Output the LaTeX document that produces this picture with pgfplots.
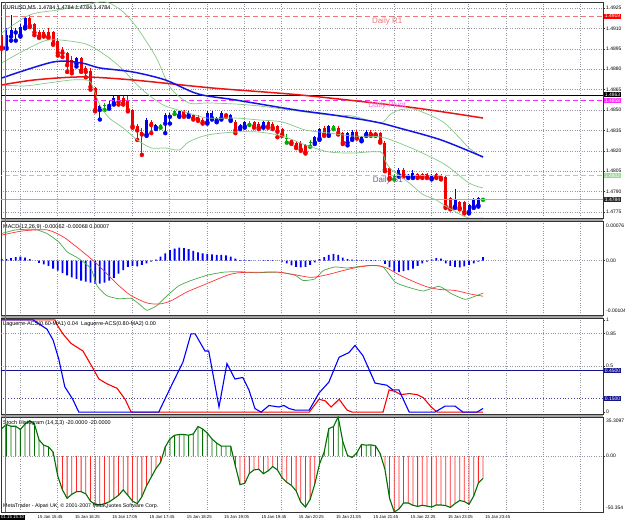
\documentclass[border=0pt]{standalone}
\usepackage{fontspec}
\setmainfont{Liberation Sans}
\usepackage{pgfplots}
\usepackage{pgfplotstable}
\pgfplotsset{compat=1.18}

\definecolor{bbgreen}{RGB}{135,200,135}
\definecolor{gridc}{RGB}{150,150,165}
\definecolor{sepc}{RGB}{165,165,165}
\definecolor{r1c}{RGB}{240,120,120}
\definecolor{pivc}{RGB}{255,40,255}
\definecolor{s1c}{RGB}{150,220,150}
\definecolor{s1txt}{RGB}{95,95,165}
\definecolor{stgreen}{RGB}{0,110,0}
\definecolor{macdgreen}{RGB}{70,170,70}
\definecolor{navyc}{RGB}{20,20,140}
\definecolor{bidc}{RGB}{170,170,190}
\definecolor{mablue}{RGB}{20,20,230}
\definecolor{mared}{RGB}{235,20,20}
\definecolor{cbull}{RGB}{0,0,235}
\definecolor{cbear}{RGB}{240,0,0}
\definecolor{cdoji}{RGB}{0,170,0}
\newcommand{\ssz}[1]{\fontsize{#1}{#1}\selectfont}

\pgfplotstableread{
i o h l c
0 1.4905 1.4907 1.4895 1.4896
1 1.4896 1.4910 1.4895 1.4905
2 1.4904 1.4920 1.4901 1.4909
3 1.4907 1.4910 1.4901 1.4908
4 1.4905 1.4913 1.4904 1.4911
5 1.4911 1.4919 1.4910 1.4918
6 1.4918 1.4920 1.4911 1.4912
7 1.4913 1.4914 1.4905 1.4907
8 1.4907 1.4909 1.4903 1.4904
9 1.4907 1.4909 1.4904 1.4905
10 1.4907 1.4910 1.4903 1.4904
11 1.4907 1.4908 1.4898 1.4899
12 1.4901 1.4903 1.4890 1.4892
13 1.4894 1.4896 1.4889 1.4892
14 1.4892 1.4893 1.4878 1.4883
15 1.4887 1.4890 1.4877 1.4879
16 1.4884 1.4889 1.4882 1.4888
17 1.4888 1.4889 1.4878 1.4879
18 1.4881 1.4882 1.4874 1.4878
19 1.4879 1.4881 1.4865 1.4867
20 1.4866 1.4867 1.4849 1.4850
21 1.4850 1.4854 1.4843 1.4853
22 1.4853 1.4855 1.4850 1.4853
23 1.4853 1.4857 1.4851 1.4854
24 1.4855 1.4860 1.4854 1.4859
25 1.4860 1.4861 1.4854 1.4856
26 1.4859 1.4860 1.4854 1.4855
27 1.4857 1.4860 1.4849 1.4850
28 1.4850 1.4851 1.4837 1.4838
29 1.4838 1.4840 1.4828 1.4835
30 1.4834 1.4837 1.4817 1.4832
31 1.4832 1.4844 1.4831 1.4843
32 1.4841 1.4843 1.4833 1.4839
33 1.4837 1.4840 1.4836 1.4839
34 1.4839 1.4840 1.4837 1.4839
35 1.4840 1.4848 1.4833 1.4846
36 1.4845 1.4848 1.4840 1.4846
37 1.4849 1.4850 1.4847 1.4849
38 1.4846 1.4850 1.4845 1.4849
39 1.4849 1.4850 1.4845 1.4846
40 1.4846 1.4849 1.4845 1.4848
41 1.4846 1.4847 1.4843 1.4844
42 1.4845 1.4846 1.4842 1.4843
43 1.4843 1.4844 1.4840 1.4841
44 1.4841 1.4849 1.4840 1.4848
45 1.4844 1.4849 1.4843 1.4848
46 1.4842 1.4845 1.4841 1.4844
47 1.4844 1.4849 1.4843 1.4848
48 1.4847 1.4848 1.4845 1.4846
49 1.4843 1.4847 1.4842 1.4846
50 1.4841 1.4843 1.4833 1.4835
51 1.4837 1.4840 1.4836 1.4839
52 1.4838 1.4842 1.4837 1.4841
53 1.4840 1.4842 1.4839 1.4840
54 1.4841 1.4842 1.4837 1.4838
55 1.4840 1.4841 1.4836 1.4837
56 1.4838 1.4842 1.4837 1.4841
57 1.4841 1.4842 1.4837 1.4838
58 1.4840 1.4841 1.4836 1.4837
59 1.4838 1.4839 1.4830 1.4834
60 1.4836 1.4837 1.4831 1.4832
61 1.4829 1.4832 1.4826 1.4829
62 1.4828 1.4829 1.4825 1.4826
63 1.4826 1.4827 1.4822 1.4823
64 1.4826 1.4827 1.4820 1.4821
65 1.4824 1.4825 1.4818 1.4819
66 1.4826 1.4828 1.4823 1.4826
67 1.4826 1.4831 1.4825 1.4830
68 1.4829 1.4837 1.4828 1.4836
69 1.4837 1.4838 1.4831 1.4832
70 1.4832 1.4839 1.4831 1.4838
71 1.4838 1.4839 1.4836 1.4838
72 1.4837 1.4838 1.4832 1.4833
73 1.4833 1.4834 1.4825 1.4826
74 1.4826 1.4834 1.4824 1.4833
75 1.4829 1.4835 1.4828 1.4834
76 1.4834 1.4835 1.4829 1.4830
77 1.4828 1.4831 1.4827 1.4830
78 1.4832 1.4835 1.4831 1.4834
79 1.4834 1.4835 1.4831 1.4832
80 1.4833 1.4834 1.4831 1.4832
81 1.4833 1.4834 1.4826 1.4827
82 1.4826 1.4827 1.4805 1.4806
83 1.4807 1.4808 1.4799 1.4800
84 1.4801 1.4803 1.4799 1.4801
85 1.4802 1.4807 1.4801 1.4806
86 1.4806 1.4807 1.4801 1.4802
87 1.4801 1.4803 1.4800 1.4802
88 1.4801 1.4806 1.4800 1.4804
89 1.4803 1.4804 1.4800 1.4801
90 1.4803 1.4804 1.4800 1.4801
91 1.4803 1.4804 1.4800 1.4801
92 1.4800 1.4803 1.4799 1.4802
93 1.4803 1.4804 1.4800 1.4801
94 1.4802 1.4803 1.4799 1.4800
95 1.4801 1.4802 1.4778 1.4779
96 1.4785 1.4786 1.4777 1.4778
97 1.4779 1.4792 1.4778 1.4784
98 1.4782 1.4783 1.4777 1.4778
99 1.4782 1.4783 1.4774 1.4775
100 1.4775 1.4781 1.4774 1.4780
101 1.4779 1.4785 1.4778 1.4784
102 1.4780 1.4786 1.4779 1.4785
103 1.4784 1.4784 1.4784 1.4784
}\candles

\pgfplotstableread{
i p
0 1.49066
6 1.49199
12 1.49235
18 1.49272
21 1.49294
23 1.49287
26 1.49221
29 1.49103
33 1.48890
36 1.48669
40 1.48552
44 1.48552
50 1.48544
55 1.48530
60 1.48508
65 1.48485
70 1.48463
75 1.48456
81 1.48405
83 1.48463
85 1.48500
88 1.48508
90 1.48485
93 1.48441
95 1.48397
98 1.48294
100 1.48221
103 1.48147
}\bbup

\pgfplotstableread{
i p
0 1.48846
5 1.48941
10 1.49015
16 1.49000
19 1.48971
23 1.48883
26 1.48794
29 1.48684
32 1.48596
35 1.48530
40 1.48478
44 1.48441
50 1.48441
55 1.48427
60 1.48412
65 1.48353
70 1.48331
75 1.48309
81 1.48302
85 1.48258
90 1.48184
95 1.48096
100 1.47963
103 1.47927
}\bbmid

\pgfplotstableread{
i p
0 1.48684
5 1.48677
10 1.48699
15 1.48721
18 1.48721
19 1.48706
20 1.48625
21 1.48537
23 1.48441
26 1.48368
29 1.48280
32 1.48221
35 1.48221
38 1.48206
40 1.48265
44 1.48316
50 1.48338
55 1.48338
60 1.48309
65 1.48243
70 1.48192
75 1.48184
81 1.48192
82 1.48133
83 1.48074
85 1.48022
88 1.47941
90 1.47882
93 1.47838
95 1.47794
98 1.47735
100 1.47706
103 1.47706
}\bblow

\pgfplotstableread{
i p
0 1.48735
11 1.48853
17 1.48846
21 1.48809
28 1.48780
35 1.48721
42 1.48618
50 1.48574
63 1.48500
71 1.48463
80 1.48412
85 1.48368
94 1.48280
103 1.48155
}\mablue

\pgfplotstableread{
i p
0 1.48684
7 1.48721
17 1.48743
28 1.48721
45 1.48662
64 1.48610
87 1.48522
103 1.48441
}\mared

\pgfplotstableread{
i v
0 0.00003
1 0.00003
2 0.00005
3 0.00007
4 0.00008
5 0.00006
6 0.00003
7 0.00000
8 -0.00004
9 -0.00007
10 -0.00010
11 -0.00015
12 -0.00019
13 -0.00024
14 -0.00028
15 -0.00032
16 -0.00035
17 -0.00038
18 -0.00040
19 -0.00042
20 -0.00044
21 -0.00044
22 -0.00042
23 -0.00038
24 -0.00033
25 -0.00025
26 -0.00018
27 -0.00012
28 -0.00010
29 -0.00011
30 -0.00008
31 -0.00005
32 -0.00002
33 0.00002
34 0.00008
35 0.00014
36 0.00020
37 0.00023
38 0.00025
39 0.00024
40 0.00022
41 0.00019
42 0.00016
43 0.00014
44 0.00013
45 0.00012
46 0.00011
47 0.00011
48 0.00010
49 0.00008
50 0.00004
51 0.00001
52 0.00001
53 0.00001
54 0.00000
55 0.00000
56 0.00001
57 0.00001
58 0.00001
59 0.00000
60 -0.00002
61 -0.00005
62 -0.00009
63 -0.00012
64 -0.00013
65 -0.00012
66 -0.00008
67 -0.00003
68 0.00003
69 0.00007
70 0.00011
71 0.00013
72 0.00011
73 0.00006
74 0.00003
75 0.00002
76 0.00001
77 0.00001
78 0.00001
79 0.00001
80 0.00001
81 0.00000
82 -0.00006
83 -0.00013
84 -0.00020
85 -0.00022
86 -0.00020
87 -0.00018
88 -0.00015
89 -0.00010
90 -0.00005
91 -0.00002
92 0.00002
93 0.00005
94 0.00004
95 -0.00005
96 -0.00010
97 -0.00012
98 -0.00013
99 -0.00011
100 -0.00008
101 -0.00005
102 -0.00002
103 0.00007
}\macdhist

\pgfplotstableread{
i v
0 0.00052
3 0.00059
7 0.00060
9.7 0.00052
12.2 0.00036
14 0.00017
16.5 0.00004
19.1 -0.00015
20.4 -0.00048
22.5 -0.00067
25.1 -0.00073
27.7 -0.00072
29.8 -0.00086
31.1 -0.00095
33.2 -0.00086
35.4 -0.00067
37.9 -0.00048
40.5 -0.00038
43.9 -0.00028
47.4 -0.00022
50.8 -0.00021
54.2 -0.00023
59.3 -0.00022
62.8 -0.00028
64.5 -0.00038
67 -0.00035
68.8 -0.00019
71.3 -0.00012
73.9 -0.00014
76.5 -0.00011
79 -0.00009
81.6 -0.00012
84.2 -0.00041
86.7 -0.00050
90.2 -0.00058
93.6 -0.00049
96.2 -0.00063
99.1 -0.00074
101.3 -0.00068
103 -0.00062
}\macdmain

\pgfplotstableread{
i v
0 0.00049
4.5 0.00057
9.7 0.00059
13.1 0.00046
16.5 0.00023
20 -0.00003
22.5 -0.00025
25.1 -0.00048
27.7 -0.00067
31.1 -0.00081
33.7 -0.00083
36.2 -0.00077
39.6 -0.00060
43.9 -0.00044
48.2 -0.00028
50.8 -0.00023
55.1 -0.00022
59.3 -0.00022
62.8 -0.00027
66.2 -0.00032
69.6 -0.00027
73 -0.00019
76.5 -0.00012
79.9 -0.00009
82.4 -0.00014
85 -0.00027
88.4 -0.00041
91 -0.00050
93.6 -0.00055
97 -0.00057
100.4 -0.00064
103 -0.00068
}\macdsig

\pgfplotstableread{
i v
0 1
6.7 1
9.7 0.898
11 0.78
12.2 0.578
13.5 0.275
15.2 0.14
16.5 0
33.6 0
36.2 0.275
38.8 0.544
40.5 0.848
41.4 0.848
43.5 0.662
44.3 0.662
46.5 0.056
48.2 0.527
49.9 0.359
51.6 0.376
52.9 0.241
54.2 0.039
55.5 0
57.2 0.072
58.5 0.062
59.3 0.056
60.4 0.072
61.5 0.039
62.8 0.022
65.8 0.022
67.9 0.207
70 0.325
72.2 0.595
74.3 0.645
75.6 0.723
77.3 0.612
79.9 0.315
82.4 0.292
83.7 0.241
85 0.241
87.2 0
92.7 0
94.9 0.066
97 0.066
98.7 0
101.7 0
103 0.04
}\lagblue

\pgfplotstableread{
i v
0 1
11.4 1
11.8 0.95
13.1 0.848
14.8 0.746
17.4 0.662
19.5 0.477
20.8 0.359
22.5 0.308
24.7 0.258
26.4 0.14
27.7 0
65.8 0
67.9 0.14
69.2 0.123
70.5 0.056
72.2 0.14
73.9 0.022
75 0
81.6 0
82.9 0.241
84.2 0.224
85.4 0.19
87.2 0.201
88.9 0.19
90.2 0.157
91.9 0.056
93.2 0
103 0
}\lagred

\pgfplotstableread{
i v
0 24.8
1 28.5
2 27.0
3 27.0
4 24.0
5 29.0
6 32.0
7 29.0
8 14.6
9 9.9
10 8.4
11 3.7
12 -18.0
13 -30.4
14 -38.0
15 -34.4
16 -32.0
17 -32.0
18 -34.0
19 -40.6
20 -43.4
21 -44.0
22 -42.8
23 -41.2
24 -38.4
25 -35.3
26 -30.4
27 -35.3
28 -40.6
29 -42.8
30 -36.6
31 -26.7
32 -18.9
33 -11.2
34 -5.6
35 8.4
36 15.5
37 18.9
38 19.5
39 19.5
40 18.9
41 20.0
42 26.7
43 24.5
44 20.8
45 15.5
46 11.8
47 9.0
48 9.0
49 9.0
50 -8.7
51 -25.7
52 -24.5
53 -15.5
54 -12.4
55 -11.8
56 -15.8
57 -13.3
58 -9.3
59 -12.4
60 -19.5
61 -23.6
62 -26.4
63 -31.3
64 -41.5
65 -45.9
66 -39.0
67 -25.1
68 -7.1
69 3.7
70 24.8
71 26.7
72 35.3
73 13.0
74 0.6
75 -1.2
76 3.1
77 10.5
78 9.9
79 10.2
80 9.3
81 2.2
82 -11.8
83 -38.0
84 -50.3
85 -47.7
86 -42.2
87 -42.2
88 -44.3
89 -45.3
90 -44.3
91 -45.0
92 -45.9
93 -44.0
94 -44.0
95 -44.6
96 -46.2
97 -42.8
98 -40.0
99 -40.9
100 -43.4
101 -36.0
102 -24.2
103 -20.0
}\stoch

\pgfplotsset{
  mt/.style={
    scale only axis, width=602pt, anchor=south west,
    xmin=-0.15, xmax=128.67,
    clip mode=individual,
    axis line style={draw=black!80, line width=0.5pt},
    xtick={3.9,11.9,19.9,27.9,35.9,43.9,51.9,59.9,67.9,75.9,83.9,91.9,99.9,107.9,115.9,123.9},
    xticklabels={},
    xmajorgrids,
    grid style={gridc, dotted, line width=0.45pt},
    xtick style={draw=none},
    ytick pos=right, yticklabel pos=right,
    tick align=outside, major tick length=2pt,
    ytick style={draw=black!80, line width=0.4pt},
    yticklabel style={font=\ssz{5}, anchor=west, inner sep=1pt},
    scaled y ticks=false,
  },
  bull/.style={restrict expr to domain={\thisrow{c}-\thisrow{o}}{0.00005:1}},
  bear/.style={restrict expr to domain={\thisrow{c}-\thisrow{o}}{-1:-0.00005}},
  doji/.style={restrict expr to domain={\thisrow{c}-\thisrow{o}}{-0.00005:0.00005}},
  cnd/.style 2 args={color=#1, only marks, mark=none,
    error bars/.cd, y dir=plus, y explicit, error mark=none,
    error bar style={line width=#2, color=#1, solid}},
}

\begin{document}
\begin{tikzpicture}[x=1pt,y=1pt]
\fill[white] (0,0) rectangle (625,523);
\useasboundingbox (0,0) rectangle (625,523);
\fill[sepc] (1,302) rectangle (603,305);
\fill[sepc] (1,205) rectangle (603,208);
\fill[sepc] (1,106) rectangle (603,109);

% ===== main price panel =====
\begin{axis}[mt, at={(1pt,305pt)}, height=216pt,
  ymin=1.47706, ymax=1.49294,
  ytick={1.4775,1.4790,1.4805,1.4820,1.4835,1.4850,1.4865,1.4880,1.4895,1.4910,1.4925},
  yticklabels={1.4775,1.4790,1.4805,1.4820,1.4835,1.4850,1.4865,1.4880,1.4895,1.4910,1.4925},
  ymajorgrids]
% wicks
\addplot[bull, cnd={cbull}{0.9pt}] table[x=i, y=l, y error plus expr={\thisrow{h}-\thisrow{l}}] {\candles};
\addplot[bear, cnd={cbear}{0.9pt}] table[x=i, y=l, y error plus expr={\thisrow{h}-\thisrow{l}}] {\candles};
\addplot[doji, cnd={cdoji}{0.9pt}] table[x=i, y=l, y error plus expr={\thisrow{h}-\thisrow{l}}] {\candles};
% bodies
\addplot[bull, cnd={cbull}{3pt}] table[x=i, y=o, y error plus expr={\thisrow{c}-\thisrow{o}}] {\candles};
\addplot[bear, cnd={cbear}{3pt}] table[x=i, y=c, y error plus expr={\thisrow{o}-\thisrow{c}}] {\candles};
\addplot[doji, color=cdoji, only marks, mark=-, mark size=1.6pt, mark options={draw=cdoji, line width=0.9pt}]
  table[x=i, y=c] {\candles};
% levels
\addplot[r1c, line width=0.9pt, dash pattern=on 5pt off 3pt] coordinates {(-1,1.4919) (130,1.4919)};
\addplot[black, line width=0.6pt] coordinates {(-1,1.4861) (130,1.4861)};
\addplot[pivc, line width=0.9pt, dash pattern=on 5pt off 3pt] coordinates {(-1,1.4857) (130,1.4857)};
\addplot[s1c, line width=0.9pt, dash pattern=on 5pt off 3pt] coordinates {(-1,1.4802) (130,1.4802)};
\addplot[bidc, line width=0.8pt] coordinates {(-1,1.4784) (130,1.4784)};
% Bollinger
\addplot[bbgreen, line width=0.7pt, smooth, tension=0.5] table[x=i,y=p] {\bbup};
\addplot[bbgreen, line width=0.7pt, smooth, tension=0.5] table[x=i,y=p] {\bbmid};
\addplot[bbgreen, line width=0.7pt, smooth, tension=0.5] table[x=i,y=p] {\bblow};
% moving averages
\addplot[mared, line width=1.5pt, smooth, tension=0.5] table[x=i,y=p] {\mared};
\addplot[mablue, line width=1.5pt, smooth, tension=0.5] table[x=i,y=p] {\mablue};
\node[anchor=north west, font=\ssz{5.5}, inner sep=0pt, xshift=2pt, yshift=-3pt] at (rel axis cs:0,1)
  {EURUSD,M5\ \ 1.4784 1.4784 1.4784 1.4784};
\coordinate (tR1) at (axis cs:79.2,1.4919);
\coordinate (tPV) at (axis cs:78.4,1.4857);
\coordinate (tS1) at (axis cs:79.4,1.4802);
\coordinate (bR1) at (axis cs:128.67,1.4919);
\coordinate (bBK) at (axis cs:128.67,1.48615);
\coordinate (bPV) at (axis cs:128.67,1.4857);
\coordinate (bS1) at (axis cs:128.67,1.4802);
\coordinate (bBD) at (axis cs:128.67,1.4784);
\end{axis}
\node[anchor=north west, font=\ssz{8}, text=r1c, inner sep=0pt, yshift=-1pt] at (tR1) {Daily R1};
\node[anchor=north west, font=\ssz{8}, text=pivc!70, inner sep=0pt, yshift=-1.5pt] at (tPV) {Daily Pivot};
\node[anchor=north west, font=\ssz{8}, text=s1txt, inner sep=0pt, yshift=-1pt] at (tS1) {Daily S1};
\begin{scope}[every node/.style={anchor=west, text=white, font=\ssz{5}, inner sep=0.7pt, xshift=1pt}]
\node[fill=red] at (bR1) {1.4919};
\node[fill=black] at (bBK) {1.4863};
\node[fill=pivc] at (bPV) {1.4858};
\node[fill=s1c] at (bS1) {1.4802};
\node[fill=black!85] at (bBD) {1.4784};
\end{scope}

% ===== MACD panel =====
\begin{axis}[mt, at={(1pt,208pt)}, height=94pt,
  ymin=-0.00104, ymax=0.00076, ytick={0}, yticklabels={0.00}, ymajorgrids]
\addplot[ybar, bar width=1.8pt, bar shift=0pt, fill=blue, draw=none] table[x=i,y=v] {\macdhist};
\addplot[macdgreen, line width=0.7pt, smooth, tension=0.3] table[x=i,y=v] {\macdmain};
\addplot[red!80, line width=0.7pt, smooth, tension=0.4] table[x=i,y=v] {\macdsig};
\node[anchor=north west, font=\ssz{5.5}, inner sep=0pt, xshift=2pt, yshift=-3pt] at (rel axis cs:0,1)
  {MACD(12,26,9) -0.00062 -0.00068 0.00007};
\node[anchor=north west, font=\ssz{5}, inner sep=1pt, xshift=2pt, yshift=-2pt] at (rel axis cs:1,1) {0.00076};
\node[anchor=south west, font=\ssz{5}, inner sep=1pt, xshift=2pt, yshift=1pt] at (rel axis cs:1,0) {-0.00104};
\end{axis}

% ===== Laguerre panel =====
\begin{axis}[mt, at={(1pt,109pt)}, height=96pt,
  ymin=-0.02, ymax=1.02, ytick={0,0.5,0.85,1}, yticklabels={0,0.5,0.85,1},
  extra y ticks={0.5,0.85}, extra y tick labels={}, extra y tick style={grid=major}]
\addplot[navyc, line width=0.8pt] coordinates {(-1,0.45) (130,0.45)};
\addplot[navyc!80, line width=0.8pt, dotted] coordinates {(-1,0.15) (130,0.15)};
\addplot[red, line width=1.1pt] table[x=i,y=v] {\lagred};
\addplot[blue, line width=1.1pt] table[x=i,y=v] {\lagblue};
\node[anchor=north west, font=\ssz{5.5}, inner sep=0pt, xshift=2pt, yshift=-3pt] at (rel axis cs:0,1)
  {Laguerre-ACS(0.60-MA1) 0.04\ \ Laguerre-ACS(0.80-MA2) 0.00};
\coordinate (bL45) at (axis cs:128.67,0.45);
\coordinate (bL15) at (axis cs:128.67,0.15);
\end{axis}
\begin{scope}[every node/.style={anchor=west, text=white, font=\ssz{5}, inner sep=0.7pt, xshift=1pt, fill=navyc}]
\node at (bL45) {0.4500};
\node at (bL15) {0.1500};
\end{scope}

% ===== Stoch histogram panel =====
\begin{axis}[mt, at={(1pt,11pt)}, height=95pt,
  ymin=-50.354, ymax=35.3097, ytick={0}, yticklabels={0.00}, ymajorgrids]
\addplot[ybar, bar width=0.8pt, bar shift=0pt, fill=stgreen, draw=none, restrict y to domain=0:100] table[x=i,y=v] {\stoch};
\addplot[ybar, bar width=0.8pt, bar shift=0pt, fill=red!85, draw=none, restrict y to domain=-100:0] table[x=i,y=v] {\stoch};
\addplot[stgreen, line width=1.1pt] table[x=i,y=v] {\stoch};
\node[anchor=north west, font=\ssz{5.5}, inner sep=0pt, xshift=2pt, yshift=-3pt] at (rel axis cs:0,1)
  {Stoch Histogram (14,3,3) -20.0000 -20.0000};
\node[anchor=south west, font=\ssz{5.3}, inner sep=0pt, xshift=2pt, yshift=3pt] at (rel axis cs:0,0)
  {MetaTrader - Alpari UK, \textcopyright{} 2001-2007 MetaQuotes Software Corp.};
\node[anchor=north west, font=\ssz{5}, inner sep=1pt, xshift=2pt, yshift=-1pt] at (rel axis cs:1,1) {35.3097};
\node[anchor=south west, font=\ssz{5}, inner sep=1pt, xshift=2pt, yshift=1pt] at (rel axis cs:1,0) {-50.354};
\end{axis}

% crosshair line and time axis
\draw[black!55, line width=0.5pt] (5.5,11) -- (5.5,521);
\node[anchor=west, fill=black, text=white, font=\ssz{4.3}, inner sep=1pt] at (0,5.5) {01.15 15:10};
\foreach \k/\t in {0/15:45,1/16:25,2/17:05,3/17:45,4/18:25,5/19:05,6/19:45,7/20:25,8/21:05,9/21:45,10/22:25,11/23:05,12/23:45}
  \node[anchor=west, font=\ssz{4.3}, inner sep=0pt] at ({37.5+37.3*\k},5.5) {15 Jan \t};
\end{tikzpicture}
\end{document}
